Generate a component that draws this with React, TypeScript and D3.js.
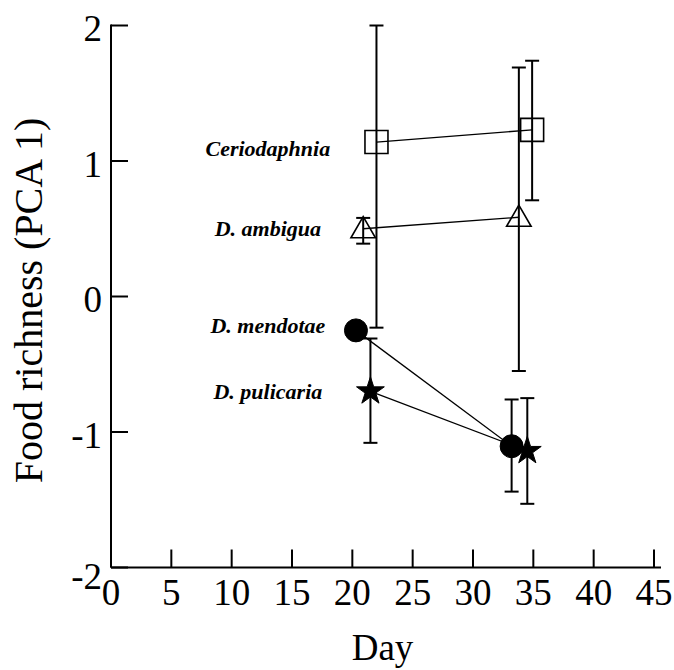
import React from "react";
import * as d3 from "d3";

const xTicks = [0, 5, 10, 15, 20, 25, 30, 35, 40, 45];
const yTicks = [-2, -1, 0, 1, 2];

const seriesNames = ["Ceriodaphnia", "D. ambigua", "D. mendotae", "D. pulicaria"];
const seriesSymbols = ["square", "triangle", "circle", "star"];
const ceriodaphniaDay = [22.0, 34.9];
const ceriodaphniaVal = [1.14, 1.23];
const ceriodaphniaHi = [2.0, 1.74];
const ceriodaphniaLo = [-0.23, 0.71];
const ambiguaDay = [20.9, 33.8];
const ambiguaVal = [0.5, 0.585];
const ambiguaHi = [0.58, 1.69];
const ambiguaLo = [0.39, -0.55];
const mendotaeDay = [20.3, 33.2];
const mendotaeVal = [-0.25, -1.105];
const mendotaeHi = [null, -0.76];
const mendotaeLo = [null, -1.44];
const pulicariaDay = [21.5, 34.5];
const pulicariaVal = [-0.7, -1.14];
const pulicariaHi = [-0.31, -0.75];
const pulicariaLo = [-1.08, -1.53];

// label positions in data units (day, value)
const labelDay = [13.0, 13.0, 13.0, 13.0];
const labelVal = [1.04, 0.45, -0.27, -0.76];

const W = 674;
const H = 670;
const FONT = "'Liberation Serif', 'Times New Roman', serif";

type Series = { day: number[]; val: number[]; hi: (number | null)[]; lo: (number | null)[] };
const series: Series[] = [
  { day: ceriodaphniaDay, val: ceriodaphniaVal, hi: ceriodaphniaHi, lo: ceriodaphniaLo },
  { day: ambiguaDay, val: ambiguaVal, hi: ambiguaHi, lo: ambiguaLo },
  { day: mendotaeDay, val: mendotaeVal, hi: mendotaeHi, lo: mendotaeLo },
  { day: pulicariaDay, val: pulicariaVal, hi: pulicariaHi, lo: pulicariaLo },
];

export default function App() {
  const x = d3.scaleLinear().domain([0, 45]).range([111, 654]);
  const y = d3.scaleLinear().domain([-2, 2]).range([567.5, 25.5]);
  const line = d3
    .line<[number, number]>()
    .x((d) => x(d[0]))
    .y((d) => y(d[1]));

  const symGen = (kind: string) => {
    if (kind === "square") return d3.symbol(d3.symbolSquare, 23 * 23)();
    if (kind === "triangle") return d3.symbol(d3.symbolTriangle, 260)();
    if (kind === "circle") return d3.symbol(d3.symbolCircle, Math.PI * 11.5 * 11.5)();
    return d3.symbol(d3.symbolStar, 240)();
  };

  const cap = 7;

  return (
    <svg width={W} height={H} style={{ position: "absolute", left: 0, top: 0, background: "#fff" }}>
      <rect x={0} y={0} width={W} height={H} fill="#fff" />
      {/* axes */}
      <line x1={x(0)} x2={x(0)} y1={y(2) - 1} y2={y(-2)} stroke="#000" strokeWidth={2} />
      <line x1={x(0)} x2={661} y1={y(-2)} y2={y(-2)} stroke="#000" strokeWidth={2} />
      {yTicks.map((t) => (
        <g key={"y" + t}>
          <line x1={x(0)} x2={x(0) + 17} y1={y(t)} y2={y(t)} stroke="#000" strokeWidth={2} />
          <text
            x={102}
            y={y(t) + (t === -2 ? 9 : 3)}
            textAnchor="end"
            dominantBaseline="central"
            fontFamily={FONT}
            fontSize={37}
          >
            {t}
          </text>
        </g>
      ))}
      {xTicks.map((t) => (
        <g key={"x" + t}>
          <line x1={x(t)} x2={x(t)} y1={y(-2)} y2={y(-2) - 18} stroke="#000" strokeWidth={2} />
          <text x={x(t)} y={605} textAnchor="middle" fontFamily={FONT} fontSize={37}>
            {t}
          </text>
        </g>
      ))}
      <text x={(x(0) + x(45)) / 2} y={660} textAnchor="middle" fontFamily={FONT} fontSize={37}>
        Day
      </text>
      <text
        transform={`translate(42,${(y(2) + y(-2)) / 2 + 4}) rotate(-90)`}
        textAnchor="middle"
        fontFamily={FONT}
        fontSize={40}
      >
        Food richness (PCA 1)
      </text>

      {/* connecting lines */}
      {series.map((s, i) => (
        <path
          key={"l" + i}
          d={line(s.day.map((d, j) => [d, s.val[j]] as [number, number])) || ""}
          fill="none"
          stroke="#000"
          strokeWidth={1.3}
        />
      ))}
      {/* error bars */}
      {series.map((s, i) =>
        s.day.map((d, j) => {
          const hi = s.hi[j];
          const lo = s.lo[j];
          if (hi == null || lo == null) return null;
          const cx = x(d);
          return (
            <g key={"e" + i + "-" + j} stroke="#000" strokeWidth={2}>
              <line x1={cx} x2={cx} y1={y(hi)} y2={y(lo)} />
              <line x1={cx - cap} x2={cx + cap} y1={y(hi)} y2={y(hi)} />
              <line x1={cx - cap} x2={cx + cap} y1={y(lo)} y2={y(lo)} />
            </g>
          );
        })
      )}
      {/* markers */}
      {series.map((s, i) =>
        s.day.map((d, j) => {
          const kind = seriesSymbols[i];
          const filled = kind === "circle" || kind === "star";
          return (
            <path
              key={"m" + i + "-" + j}
              d={symGen(kind) || ""}
              transform={`translate(${x(d)},${y(s.val[j]) + (kind === "triangle" ? 2 : 0)})`}
              fill={filled ? "#000" : "none"}
              stroke="#000"
              strokeWidth={filled ? 1 : 1.6}
            />
          );
        })
      )}
      {/* series labels */}
      {seriesNames.map((n, i) => (
        <text
          key={"t" + i}
          x={x(labelDay[i])}
          y={y(labelVal[i])}
          textAnchor="middle"
          fontFamily={FONT}
          fontStyle="italic"
          fontWeight="bold"
          fontSize={22}
        >
          {n}
        </text>
      ))}
    </svg>
  );
}
